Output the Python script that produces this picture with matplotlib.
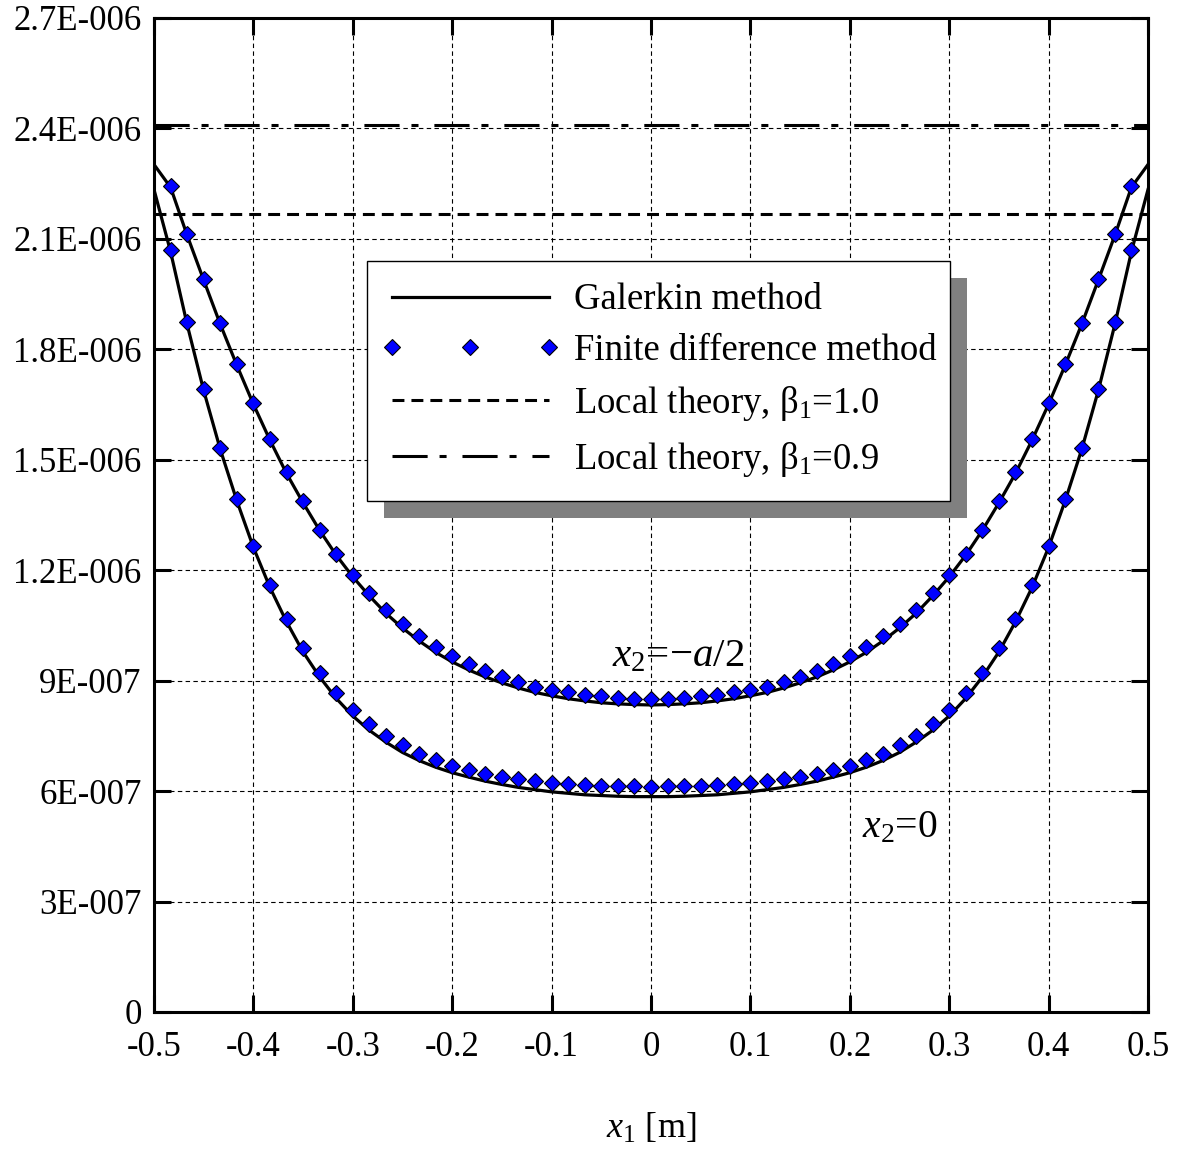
import numpy as np
import matplotlib
matplotlib.use("Agg")
import matplotlib.pyplot as plt
from matplotlib.patches import Rectangle

plt.rcParams['font.family'] = ['Liberation Serif', 'DejaVu Serif']
plt.rcParams['mathtext.fontset'] = 'custom'
plt.rcParams['mathtext.rm'] = 'Liberation Serif'
plt.rcParams['mathtext.it'] = 'Liberation Serif:italic'
plt.rcParams['mathtext.bf'] = 'Liberation Serif:bold'

# ---------------- data (values in units of 1e-6) ----------------
x_line = [-0.5, -0.4833, -0.4667, -0.45, -0.4333, -0.4167, -0.4, -0.3833, -0.3667, -0.35,
          -0.3333, -0.3167, -0.3, -0.2833, -0.2667, -0.25, -0.2333, -0.2167, -0.2, -0.1833,
          -0.1667, -0.15, -0.1333, -0.1167, -0.1, -0.0833, -0.0667, -0.05, -0.0333, -0.0167,
          0.0, 0.0167, 0.0333, 0.05, 0.0667, 0.0833, 0.1, 0.1167, 0.1333, 0.15,
          0.1667, 0.1833, 0.2, 0.2167, 0.2333, 0.25, 0.2667, 0.2833, 0.3, 0.3167,
          0.3333, 0.35, 0.3667, 0.3833, 0.4, 0.4167, 0.4333, 0.45, 0.4667, 0.4833, 0.5]

x_fd = x_line[1:-1]

galerkin_half = [2.302, 2.240, 2.110, 1.988, 1.868, 1.757, 1.651, 1.553, 1.463, 1.383,
                 1.308, 1.241, 1.182, 1.130, 1.083, 1.043, 1.008, 0.977, 0.951, 0.929,
                 0.910, 0.894, 0.880, 0.868, 0.859, 0.851, 0.845, 0.840, 0.837, 0.835,
                 0.834, 0.835, 0.837, 0.840, 0.845, 0.851, 0.859, 0.868, 0.880, 0.894,
                 0.910, 0.929, 0.951, 0.977, 1.008, 1.043, 1.083, 1.130, 1.182, 1.241,
                 1.308, 1.383, 1.463, 1.553, 1.651, 1.757, 1.868, 1.988, 2.110, 2.240, 2.302]

galerkin_zero = [2.234, 2.065, 1.868, 1.688, 1.528, 1.389, 1.262, 1.153, 1.060, 0.978,
                 0.910, 0.852, 0.804, 0.765, 0.733, 0.705, 0.683, 0.665, 0.650, 0.638,
                 0.627, 0.618, 0.610, 0.604, 0.598, 0.594, 0.590, 0.588, 0.586, 0.585,
                 0.585, 0.585, 0.586, 0.588, 0.590, 0.594, 0.598, 0.604, 0.610, 0.618,
                 0.627, 0.638, 0.650, 0.665, 0.683, 0.705, 0.733, 0.765, 0.804, 0.852,
                 0.910, 0.978, 1.060, 1.153, 1.262, 1.389, 1.528, 1.688, 1.868, 2.065, 2.234]

fd_half = [2.245, 2.114, 1.991, 1.871, 1.760, 1.654, 1.556, 1.466, 1.387, 1.310,
           1.245, 1.188, 1.137, 1.092, 1.054, 1.020, 0.991, 0.966, 0.945, 0.926,
           0.911, 0.896, 0.884, 0.875, 0.868, 0.861, 0.857, 0.852, 0.851, 0.850,
           0.851, 0.852, 0.857, 0.861, 0.868, 0.875, 0.884, 0.896, 0.911, 0.926,
           0.945, 0.966, 0.991, 1.020, 1.054, 1.092, 1.137, 1.188, 1.245, 1.310,
           1.387, 1.466, 1.556, 1.654, 1.760, 1.871, 1.991, 2.114, 2.245]

fd_zero = [2.071, 1.873, 1.693, 1.533, 1.394, 1.267, 1.160, 1.068, 0.988, 0.922,
           0.866, 0.821, 0.783, 0.751, 0.724, 0.701, 0.685, 0.669, 0.658, 0.646,
           0.638, 0.632, 0.628, 0.623, 0.620, 0.617, 0.615, 0.614, 0.613, 0.612,
           0.613, 0.614, 0.615, 0.617, 0.620, 0.623, 0.628, 0.632, 0.638, 0.646,
           0.658, 0.669, 0.685, 0.701, 0.724, 0.751, 0.783, 0.821, 0.866, 0.922,
           0.988, 1.068, 1.160, 1.267, 1.394, 1.533, 1.693, 1.873, 2.071]

local_beta10 = 2.168
local_beta09 = 2.409
unit = 1e-6

x_ticks = [-0.5, -0.4, -0.3, -0.2, -0.1, 0.0, 0.1, 0.2, 0.3, 0.4, 0.5]
x_ticklabels = ['-0.5', '-0.4', '-0.3', '-0.2', '-0.1', '0', '0.1', '0.2', '0.3', '0.4', '0.5']
y_ticks = [0, 0.3, 0.6, 0.9, 1.2, 1.5, 1.8, 2.1, 2.4, 2.7]
y_ticklabels = ['0', '3E-007', '6E-007', '9E-007', '1.2E-006', '1.5E-006',
                '1.8E-006', '2.1E-006', '2.4E-006', '2.7E-006']

# ---------------- figure ----------------
fig = plt.figure(figsize=(11.89, 11.56), dpi=100)
ax = fig.add_axes([154/1189, 1 - 1012/1156, (1148-154)/1189, (1012-18)/1156])

u = np.array

ax.plot(x_line, u(galerkin_half)*unit, color='black', lw=2.3, zorder=3,
        label='Galerkin method')
ax.plot(x_line, u(galerkin_zero)*unit, color='black', lw=2.3, zorder=3)
ax.plot(x_fd, u(fd_half)*unit, ls='none', marker='D', ms=8.6, mfc='#0000FF',
        mec='black', mew=0.8, zorder=4, label='Finite difference method')
ax.plot(x_fd, u(fd_zero)*unit, ls='none', marker='D', ms=8.6, mfc='#0000FF',
        mec='black', mew=0.8, zorder=4)
ax.axhline(local_beta10*unit, color='black', lw=2.2, ls=(0, (3.9, 2.3)), zorder=3,
           label=r'Local theory, $\mathrm{\beta}_1$=1.0')
ax.axhline(local_beta09*unit, color='black', lw=2.2, ls=(0, (11.5, 3.9, 2.3, 5.2)), zorder=3,
           label=r'Local theory, $\mathrm{\beta}_1$=0.9')

ax.set_xlim(-0.5, 0.5)
ax.set_ylim(0, 2.7*unit)
ax.set_xticks(x_ticks)
ax.set_xticklabels(x_ticklabels)
ax.set_yticks(u(y_ticks)*unit)
ax.set_yticklabels(y_ticklabels)

ax.grid(True, color='black', lw=0.8, ls=(0, (4, 3)), zorder=0)
ax.set_axisbelow(True)
ax.tick_params(which='major', direction='in', length=12, width=2.2,
               labelsize=25, top=True, right=True, pad=9)
ax.tick_params(axis='x', pad=14)
for s in ax.spines.values():
    s.set_linewidth(2.2)

ax.set_xlabel(r'$x_1$ [m]', fontsize=26, labelpad=34)

ax.text(-0.039, 0.965*unit, r'$x_2$=−$a$/2', fontsize=29.5, va='center', ha='left')
ax.text(0.212, 0.50*unit, r'$x_2$=0', fontsize=28.5, va='center', ha='left')

# legend (frame drawn manually so vertical/horizontal padding can differ)
vpad = 8
leg_top_px = 261 + vpad
leg = ax.legend(loc='upper left', bbox_to_anchor=(0.214, (1012 - leg_top_px) / 994),
                fontsize=26.5, frameon=False, handlelength=4.86,
                handletextpad=0.38, numpoints=3, labelspacing=0.44,
                borderpad=0.38, borderaxespad=0.0)
leg.set_zorder(6)

fig.canvas.draw()
bb = leg.get_window_extent()
inv = ax.transAxes.inverted()
fx0, fy0 = inv.transform((bb.x0, bb.y0 - vpad))
fx1, fy1 = inv.transform((bb.x1, bb.y1 + vpad))
off = 17
sx0, sy0 = inv.transform((bb.x0 + off, bb.y0 - vpad - off))
sx1, sy1 = inv.transform((bb.x1 + off, bb.y1 + vpad - off))
ax.add_patch(Rectangle((sx0, sy0), sx1 - sx0, sy1 - sy0, transform=ax.transAxes,
                       facecolor='#808080', edgecolor='none', zorder=5.5))
ax.add_patch(Rectangle((fx0, fy0), fx1 - fx0, fy1 - fy0, transform=ax.transAxes,
                       facecolor='white', edgecolor='black', lw=1.0, zorder=5.8))

fig.savefig('out.png', dpi=100)
